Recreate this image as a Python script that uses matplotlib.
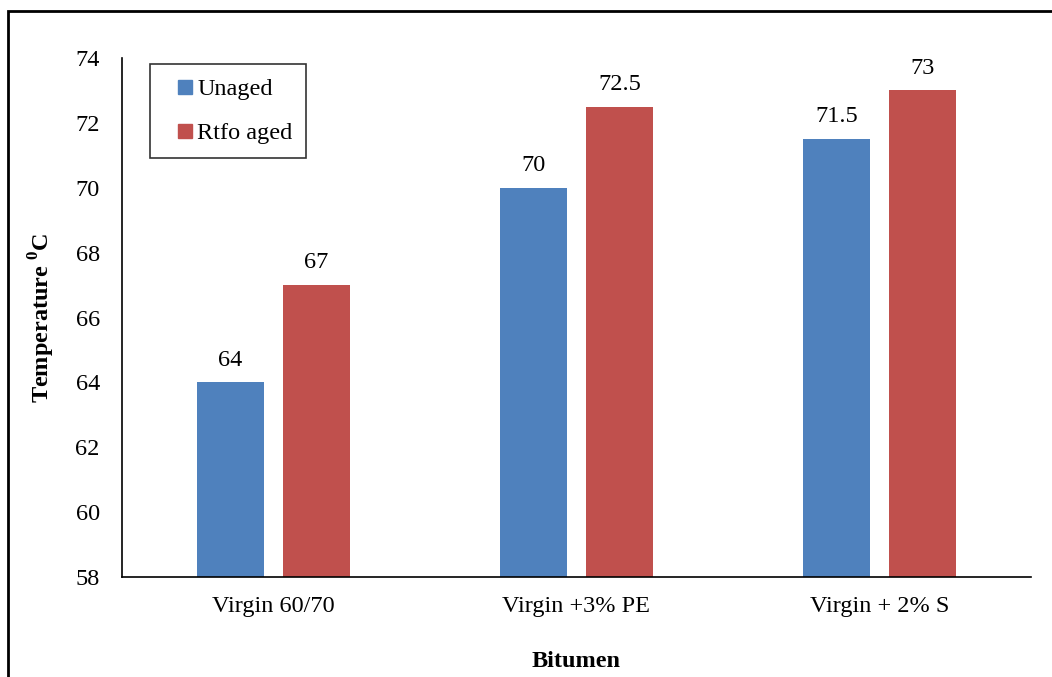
import matplotlib
matplotlib.use("Agg")
import matplotlib.pyplot as plt
from matplotlib.patches import Rectangle
from matplotlib.lines import Line2D
import numpy as np

categories = ["Virgin 60/70", "Virgin +3% PE", "Virgin + 2% S"]
unaged = [64, 70, 71.5]
rtfo_aged = [67, 72.5, 73]
value_labels_unaged = ["64", "70", "71.5"]
value_labels_rtfo = ["67", "72.5", "73"]
yticks = [58, 60, 62, 64, 66, 68, 70, 72, 74]

plt.rcParams['font.family'] = ['Liberation Serif', 'DejaVu Serif']
plt.rcParams['mathtext.fontset'] = 'custom'
plt.rcParams['mathtext.rm'] = 'Liberation Serif'
plt.rcParams['mathtext.bf'] = 'Liberation Serif:bold'

blue = '#4F81BD'
red = '#C0504D'
fs = 17.5

fig = plt.figure(figsize=(10.52, 6.77), dpi=100)
ax = fig.add_axes([0.116, 0.1477, 0.864, 0.7666])

x = np.arange(len(categories))
width = 0.224
offset = 0.142

b1 = ax.bar(x - offset, unaged, width, color=blue, label='Unaged', zorder=2)
b2 = ax.bar(x + offset, rtfo_aged, width, color=red, label='Rtfo aged', zorder=2)

for rect, lab in zip(b1, value_labels_unaged):
    ax.annotate(lab, (rect.get_x() + rect.get_width() / 2, rect.get_height()),
                xytext=(0, 8.5), textcoords='offset points', ha='center', va='bottom', fontsize=fs)
for rect, lab in zip(b2, value_labels_rtfo):
    ax.annotate(lab, (rect.get_x() + rect.get_width() / 2, rect.get_height()),
                xytext=(0, 8.5), textcoords='offset points', ha='center', va='bottom', fontsize=fs)

ax.set_ylim(58, 74)
ax.set_xlim(-0.5, 2.5)
ax.set_yticks(yticks)
ax.set_xticks(x)
ax.set_xticklabels(categories, fontsize=fs)
ax.tick_params(axis='y', labelsize=fs, length=0, pad=16)
ax.tick_params(axis='x', length=0, pad=14)

ax.spines['top'].set_visible(False)
ax.spines['right'].set_visible(False)
ax.spines['left'].set_linewidth(1.2)
ax.spines['bottom'].set_linewidth(1.2)

ax.set_ylabel(r"Temperature $^{\mathbf{0}}$C", fontsize=fs, fontweight='bold', labelpad=13)
ax.set_xlabel("Bitumen", fontsize=fs, fontweight='bold', labelpad=24)

# square markers as legend keys, set inward like the original
handles = [Line2D([], [], marker='s', linestyle='None', markersize=9.5, color=blue),
           Line2D([], [], marker='s', linestyle='None', markersize=9.5, color=red)]
leg = ax.legend(handles, ['Unaged', 'Rtfo aged'], loc='upper left', bbox_to_anchor=(0.031, 0.988),
                borderaxespad=0, fontsize=fs, frameon=True, fancybox=False,
                handlelength=1.7, handletextpad=-0.35, labelspacing=0.9, borderpad=0.58)
leg.get_frame().set_edgecolor('black')
leg.get_frame().set_linewidth(1.2)

# outer border around the chart
frame = Rectangle((0.0076, -0.1), 1.2, 0.9838 + 0.1, transform=fig.transFigure,
                  fill=False, edgecolor='black', linewidth=2, clip_on=False)
fig.patches.append(frame)

fig.savefig("out.png", dpi=100)
